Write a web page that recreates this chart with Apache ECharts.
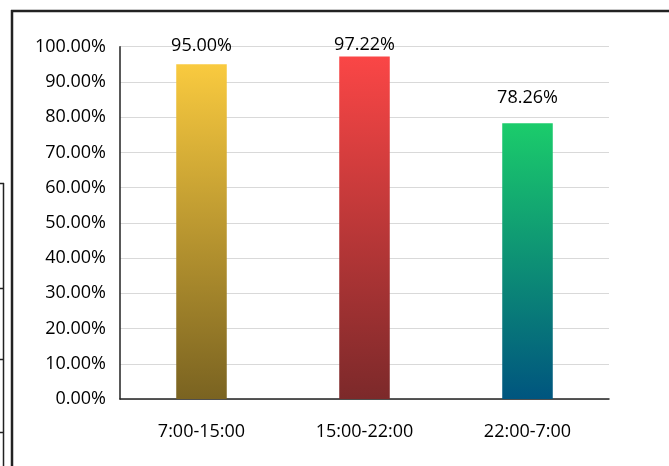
<!DOCTYPE html>
<html>
<head>
<meta charset="utf-8">
<script src="https://cdn.jsdelivr.net/npm/echarts@6/dist/echarts.min.js"></script>
<style>
html,body{margin:0;padding:0;background:#fff;}
#c{width:669px;height:466px;}
</style>
</head>
<body>
<div id="c"></div>
<script>
var categories = ['7:00-15:00', '15:00-22:00', '22:00-7:00'];
var values = [95.00, 97.22, 78.26];
var topColors = ['#F9CA3F', '#FA4646', '#1BCC6B'];
var bottomColors = ['#7A6321', '#7C292A', '#00557F'];
var labelGaps = [9, 3, 16];

var FONT = '"Open Sans", sans-serif';
var chart = echarts.init(document.getElementById('c'), null, {renderer: 'canvas'});
chart.setOption({
  backgroundColor: '#ffffff',
  animation: false,
  grid: {left: 120, right: 60, top: 46.7, bottom: 67},
  xAxis: {
    type: 'category',
    data: categories,
    axisLine: {lineStyle: {color: '#222', width: 1.5}},
    axisTick: {show: false},
    axisLabel: {fontFamily: FONT, fontSize: 18, color: '#000', margin: 24}
  },
  yAxis: {
    type: 'value',
    min: 0, max: 100, interval: 10,
    axisLine: {show: true, lineStyle: {color: '#222', width: 1.5}},
    axisTick: {show: false},
    splitLine: {lineStyle: {color: '#D9D9D9', width: 1.2}},
    axisLabel: {
      fontFamily: FONT, fontSize: 18, color: '#000', margin: 14,
      formatter: function (v) { return v.toFixed(2) + '%'; }
    }
  },
  series: [{
    type: 'bar',
    barWidth: '31%',
    data: values.map(function (v, i) {
      return {
        value: v,
        itemStyle: {
          color: new echarts.graphic.LinearGradient(0, 0, 0, 1, [
            {offset: 0, color: topColors[i]},
            {offset: 1, color: bottomColors[i]}
          ])
        },
        label: {distance: labelGaps[i]}
      };
    }),
    label: {
      show: true, position: 'top',
      fontFamily: FONT, fontSize: 18, color: '#000',
      formatter: function (p) { return p.value.toFixed(2) + '%'; }
    }
  }],
  graphic: [
    {type: 'line', shape: {x1: 11, y1: 11, x2: 669, y2: 11}, style: {stroke: '#222', lineWidth: 2.5}},
    {type: 'line', shape: {x1: 12, y1: 10, x2: 12, y2: 466}, style: {stroke: '#222', lineWidth: 2.5}},
    {type: 'line', shape: {x1: 3.5, y1: 183, x2: 3.5, y2: 466}, style: {stroke: '#222', lineWidth: 1.5}},
    {type: 'line', shape: {x1: 0, y1: 183.5, x2: 4, y2: 183.5}, style: {stroke: '#222', lineWidth: 1.5}},
    {type: 'line', shape: {x1: 0, y1: 288.5, x2: 4, y2: 288.5}, style: {stroke: '#222', lineWidth: 1.5}},
    {type: 'line', shape: {x1: 0, y1: 359.5, x2: 4, y2: 359.5}, style: {stroke: '#222', lineWidth: 1.5}},
    {type: 'line', shape: {x1: 0, y1: 432.5, x2: 4, y2: 432.5}, style: {stroke: '#222', lineWidth: 1.5}}
  ]
});
</script>
</body>
</html>
